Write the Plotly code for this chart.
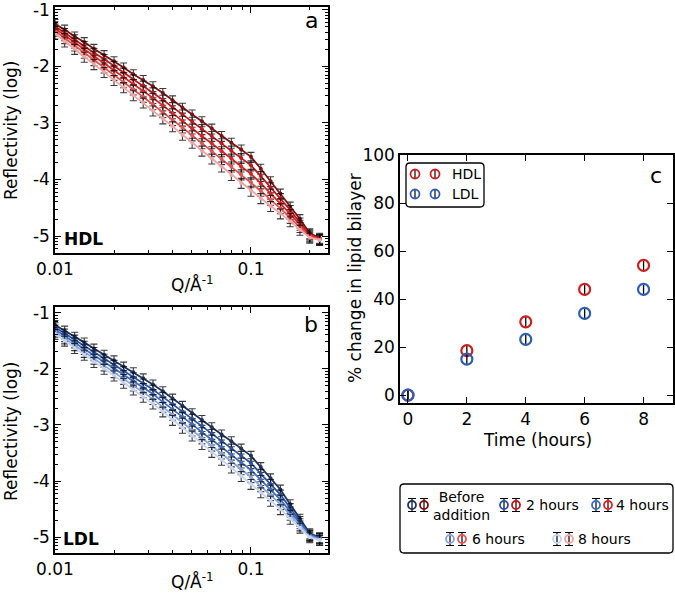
import plotly.graph_objects as go

# ---------------- data ----------------
q_values = [0.0100, 0.0112, 0.0126, 0.0141, 0.0158, 0.0178, 0.0200, 0.0224, 0.0251, 0.0282,
            0.0316, 0.0355, 0.0398, 0.0447, 0.0501, 0.0562, 0.0631, 0.0708, 0.0794, 0.0891,
            0.1000, 0.1122, 0.1259, 0.1413, 0.1585, 0.1778, 0.1995, 0.2239]

# log10(reflectivity) (HDL)
hdl_before = [-1.25, -1.35, -1.47, -1.57, -1.69, -1.80, -1.91, -2.02, -2.14, -2.24, -2.35, -2.47, -2.60, -2.73,
              -2.85, -2.97, -3.10, -3.23, -3.35, -3.47, -3.60, -3.81, -4.03, -4.25, -4.48, -4.70, -4.95, -5.03]
hdl_2h = [-1.29, -1.41, -1.52, -1.64, -1.76, -1.87, -1.99, -2.11, -2.23, -2.34, -2.46, -2.59, -2.72, -2.85,
          -2.98, -3.11, -3.23, -3.36, -3.49, -3.62, -3.75, -3.94, -4.14, -4.33, -4.54, -4.76, -4.97, -5.05]
hdl_4h = [-1.33, -1.45, -1.58, -1.70, -1.82, -1.95, -2.07, -2.19, -2.31, -2.44, -2.56, -2.69, -2.83, -2.96,
          -3.10, -3.23, -3.36, -3.50, -3.63, -3.77, -3.90, -4.07, -4.25, -4.42, -4.61, -4.80, -4.99, -5.05]
hdl_6h = [-1.37, -1.50, -1.63, -1.76, -1.89, -2.02, -2.15, -2.28, -2.41, -2.54, -2.67, -2.81, -2.95, -3.08,
          -3.22, -3.36, -3.50, -3.64, -3.77, -3.91, -4.05, -4.20, -4.36, -4.51, -4.68, -4.84, -5.01, -5.06]
hdl_8h = [-1.42, -1.56, -1.69, -1.83, -1.96, -2.10, -2.24, -2.37, -2.51, -2.64, -2.78, -2.92, -3.06, -3.21,
          -3.35, -3.49, -3.63, -3.77, -3.92, -4.06, -4.20, -4.33, -4.47, -4.60, -4.74, -4.89, -5.03, -5.07]

# log10(reflectivity) (LDL)
ldl_before = [-1.22, -1.32, -1.43, -1.53, -1.64, -1.75, -1.85, -1.96, -2.06, -2.17, -2.28, -2.40, -2.53, -2.66,
              -2.79, -2.91, -3.04, -3.17, -3.29, -3.42, -3.55, -3.75, -3.95, -4.15, -4.41, -4.67, -4.93, -5.00]
ldl_2h = [-1.26, -1.37, -1.48, -1.59, -1.70, -1.82, -1.93, -2.04, -2.15, -2.26, -2.37, -2.50, -2.63, -2.76,
          -2.89, -3.02, -3.16, -3.29, -3.42, -3.55, -3.68, -3.87, -4.05, -4.24, -4.48, -4.71, -4.95, -5.01]
ldl_4h = [-1.30, -1.42, -1.53, -1.65, -1.76, -1.88, -1.99, -2.11, -2.22, -2.34, -2.45, -2.59, -2.72, -2.86,
          -2.99, -3.13, -3.26, -3.40, -3.53, -3.67, -3.80, -3.98, -4.15, -4.33, -4.54, -4.75, -4.96, -5.02]
ldl_6h = [-1.34, -1.46, -1.58, -1.70, -1.82, -1.94, -2.06, -2.18, -2.30, -2.42, -2.54, -2.68, -2.82, -2.96,
          -3.10, -3.24, -3.37, -3.51, -3.65, -3.79, -3.93, -4.09, -4.25, -4.41, -4.60, -4.79, -4.98, -5.04]
ldl_8h = [-1.38, -1.50, -1.63, -1.75, -1.88, -2.00, -2.12, -2.25, -2.37, -2.50, -2.62, -2.76, -2.91, -3.05,
          -3.19, -3.34, -3.48, -3.62, -3.76, -3.91, -4.05, -4.20, -4.35, -4.50, -4.67, -4.83, -5.00, -5.05]

# panel c
time_hours = [0, 2, 4, 6, 8]
hdl_change = [0.0, 18.5, 30.5, 44.0, 54.0]
ldl_change = [0.0, 15.0, 23.2, 34.0, 44.0]
hdl_change_err = [2.5, 2.5, 2.5, 2.5, 2.5]
ldl_change_err = [2.5, 2.5, 2.5, 2.5, 2.5]

time_labels = ["Before<br>addition", "2 hours", "4 hours", "6 hours", "8 hours"]
hdl_colors = ["#7a1212", "#c0161c", "#dc2222", "#e65252", "#f2a3a3"]
ldl_colors = ["#1c3262", "#2a52a2", "#3d6dc2", "#88a5dc", "#c6d3f0"]

x_major = [0.01, 0.1]
x_major_text = ["0.01", "0.1"]
x_minor = [0.02, 0.03, 0.04, 0.05, 0.06, 0.07, 0.08, 0.09, 0.2]
y_major_exp = [-1, -2, -3, -4, -5]
y_minor_mant = [2, 3, 4, 5, 6, 7, 8, 9]

W, H = 675, 595
FONT = "DejaVu Sans"


def px(x):
    return x / W


def py(y):
    return 1 - y / H


fig = go.Figure()

hdl_sets = [hdl_before, hdl_2h, hdl_4h, hdl_6h, hdl_8h]
ldl_sets = [ldl_before, ldl_2h, ldl_4h, ldl_6h, ldl_8h]

for sets, colors, xa, ya in [(hdl_sets, hdl_colors, "x", "y"), (ldl_sets, ldl_colors, "x2", "y2")]:
    for vals, col in zip(sets, colors):
        fig.add_trace(go.Scatter(
            x=q_values, y=[10 ** v for v in vals], xaxis=xa, yaxis=ya,
            mode="lines+markers",
            line=dict(color=col, width=1.8),
            marker=dict(size=4, color=col),
            error_y=dict(type="percent", value=20, color="rgba(10,10,10,0.8)", thickness=1.1, width=3.5),
            showlegend=False, hoverinfo="skip"))

# panel c
for vals, err, col in [(hdl_change, hdl_change_err, "#cc1f1f"), (ldl_change, ldl_change_err, "#2f5db0")]:
    fig.add_trace(go.Scatter(
        x=time_hours, y=vals, xaxis="x3", yaxis="y3", mode="markers",
        marker=dict(symbol="circle-open", size=11, color=col, line=dict(width=2.2, color=col)),
        error_y=dict(type="data", array=err, color="black", thickness=1.3, width=0),
        showlegend=False, hoverinfo="skip"))


# ---- custom legends on an overlay pixel axis ----
def glyph(x, y, col, half, cap, size):
    fig.add_trace(go.Scatter(
        x=[x], y=[y], xaxis="x4", yaxis="y4", mode="markers",
        marker=dict(symbol="circle-open", size=size, color=col, line=dict(width=1.8, color=col)),
        error_y=dict(type="constant", value=half, color="black", thickness=1.2, width=cap),
        showlegend=False, hoverinfo="skip"))


for (label, col, yy) in [("HDL", "#cc1f1f", 174), ("LDL", "#2f5db0", 194)]:
    glyph(415, yy, col, 5, 0, 9)
    glyph(435, yy, col, 5, 0, 9)
    fig.add_annotation(x=px(450), y=py(yy), xref="paper", yref="paper", text=label,
                       showarrow=False, xanchor="left", yanchor="middle",
                       font=dict(family=FONT, size=14, color="black"))

legend_pos = [(412, 505, 436), (504, 505, 524), (596, 505, 614), (450, 539, 470), (557, 539, 576)]
for i, (gx, gy, tx) in enumerate(legend_pos):
    glyph(gx, gy, ldl_colors[i], 6.5, 4, 8)
    glyph(gx + 12, gy, hdl_colors[i], 6.5, 4, 8)
    if i == 0:
        fig.add_annotation(x=px(461), y=py(506), xref="paper", yref="paper", text=time_labels[i],
                           showarrow=False, xanchor="center", yanchor="middle", align="center",
                           font=dict(family=FONT, size=14, color="black"))
    else:
        fig.add_annotation(x=px(tx), y=py(gy), xref="paper", yref="paper", text=time_labels[i],
                           showarrow=False, xanchor="left", yanchor="middle",
                           font=dict(family=FONT, size=14, color="black"))


def rounded_box(x0, y0, x1, y1, r=4):
    X0, X1 = px(x0), px(x1)
    Y0, Y1 = py(y0), py(y1)
    rx, ry = r / W, r / H
    path = (f"M {X0 + rx},{Y0} L {X1 - rx},{Y0} Q {X1},{Y0} {X1},{Y0 - ry} "
            f"L {X1},{Y1 + ry} Q {X1},{Y1} {X1 - rx},{Y1} L {X0 + rx},{Y1} "
            f"Q {X0},{Y1} {X0},{Y1 + ry} L {X0},{Y0 - ry} Q {X0},{Y0} {X0 + rx},{Y0} Z")
    return dict(type="path", xref="paper", yref="paper", path=path,
                line=dict(color="black", width=1.3), fillcolor="rgba(0,0,0,0)", layer="below")


shapes = [rounded_box(406, 163, 484, 207), rounded_box(400, 484, 673, 553)]

axis_common = dict(showline=True, linecolor="black", linewidth=1.5, mirror="allticks",
                   ticks="inside", ticklen=6, tickwidth=1, tickcolor="black",
                   showgrid=False, zeroline=False, ticklabeloverflow="allow",
                   tickfont=dict(family=FONT, size=17, color="black"))

log_x = dict(axis_common, type="log", range=[-2, -0.607], tickmode="array", tickvals=x_major,
             ticktext=x_major_text,
             minor=dict(tickmode="array", tickvals=x_minor, ticks="inside", ticklen=3,
                        tickcolor="black", showgrid=False))
log_y_common = dict(axis_common, type="log", tickmode="array",
                    tickvals=[10.0 ** e for e in y_major_exp], ticktext=[str(e) for e in y_major_exp],
                    minor=dict(tickmode="array",
                               tickvals=[m * 10.0 ** (e - 1) for e in y_major_exp for m in y_minor_mant],
                               ticks="inside", ticklen=3, tickcolor="black", showgrid=False))

fig.update_layout(
    width=W, height=H, margin=dict(l=0, r=0, t=0, b=0, autoexpand=False),
    paper_bgcolor="white", plot_bgcolor="rgba(0,0,0,0)",
    font=dict(family=FONT, color="black"),
    showlegend=False,
    xaxis=dict(log_x, domain=[px(55), px(328)], anchor="y"),
    yaxis=dict(log_y_common, domain=[py(253), py(7)], range=[-5.3, -0.95], anchor="x"),
    xaxis2=dict(log_x, domain=[px(55), px(328)], anchor="y2"),
    yaxis2=dict(log_y_common, domain=[py(553), py(307)], range=[-5.28, -0.9], anchor="x2"),
    xaxis3=dict(axis_common, domain=[px(400), px(673)], range=[-0.27, 9.0], anchor="y3",
                tickmode="array", tickvals=[0, 2, 4, 6, 8]),
    yaxis3=dict(axis_common, domain=[py(403), py(155)], range=[-3.3, 100], anchor="x3",
                tickmode="array", tickvals=[0, 20, 40, 60, 80, 100]),
    xaxis4=dict(domain=[0, 1], range=[0, W], visible=False, anchor="y4"),
    yaxis4=dict(domain=[0, 1], range=[H, 0], visible=False, anchor="x4"),
    shapes=shapes,
)

texts = [
    ("Reflectivity (log)", 11, 130, 17, -90, "center"),
    ("Reflectivity (log)", 11, 431, 17, -90, "center"),
    ("Q/Å<sup>-1</sup>", 192, 284, 17, 0, "center"),
    ("Q/Å<sup>-1</sup>", 192, 581, 17, 0, "center"),
    ("% change in lipid bilayer", 355, 278, 17, -90, "center"),
    ("Time (hours)", 537, 440, 17, 0, "center"),
    ("a", 311, 21, 22, 0, "center"),
    ("b", 311, 324, 22, 0, "center"),
    ("c", 656, 175, 22, 0, "center"),
    ("<b>HDL</b>", 83, 239, 17, 0, "center"),
    ("<b>LDL</b>", 81, 539, 17, 0, "center"),
]
for t, x, y, s, ang, anc in texts:
    fig.add_annotation(x=px(x), y=py(y), xref="paper", yref="paper", text=t, showarrow=False,
                       xanchor=anc, yanchor="middle", textangle=ang,
                       font=dict(family=FONT, size=s, color="black"))

fig.write_html("out.html", config={"displayModeBar": False},
               post_script="document.body.style.margin='0';")
